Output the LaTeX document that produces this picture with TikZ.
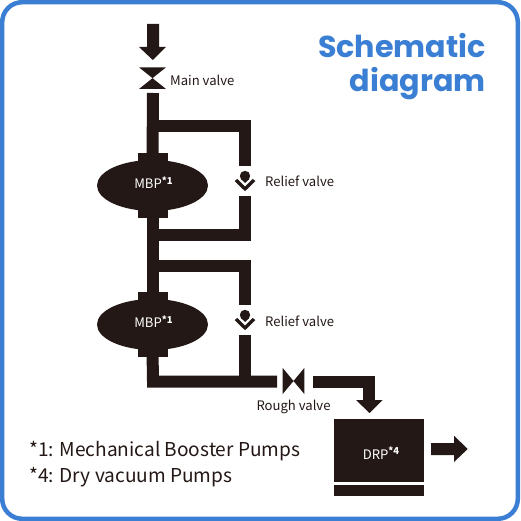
\documentclass[tikz,border=0pt]{standalone}
\usetikzlibrary{shapes.geometric,calc}
\usepackage{fontspec}
\setmainfont{Noto Sans CJK JP}
\newfontfamily\titlefont{Poppins}
\newcommand{\supmark}[1]{\raisebox{4.2pt}{\fontsize{9.5}{10}\selectfont\bfseries #1}}
\definecolor{ink}{HTML}{231815}
\definecolor{frame}{HTML}{3A7FD3}
\tikzset{
  pipe/.style={draw=ink,line width=12pt,line cap=butt,line join=miter},
  solid ink/.style={fill=ink,draw=none},
  label text/.style={text=ink,font=\fontsize{13.1}{15}\selectfont,inner sep=0pt},
  pump text/.style={text=white,font=\fontsize{13.1}{15}\selectfont,inner sep=0pt},
  legend text/.style={text=ink,font=\fontsize{19.1}{26}\selectfont,inner sep=0pt,anchor=west},
  title text/.style={text=frame,font=\titlefont\fontsize{30.2}{36}\bfseries\selectfont,inner sep=0pt,anchor=base east},
}
\begin{document}
\begin{tikzpicture}[x=1pt,y=-1pt]
\useasboundingbox (0,0) rectangle (520,521);
\fill[white] (0,0) rectangle (520,521);
\draw[frame,line width=4.5pt,rounded corners=20pt] (2.2,2.2) rectangle (517.8,518.8);
% pumps
\fill[solid ink] (138,153) rectangle (168,218);
\fill[solid ink] (138,292) rectangle (168,357);
\node[ellipse,fill=ink,minimum width=111pt,minimum height=51pt,inner sep=0pt] (mbpa) at (152.5,185.5) {};
\node[ellipse,fill=ink,minimum width=111pt,minimum height=51pt,inner sep=0pt] (mbpb) at (152.5,324.5) {};
\node[pump text,anchor=base] at (153.5,188.5) {MBP\supmark{*1}};
\node[pump text,anchor=base] at (153.5,327.5) {MBP\supmark{*1}};
\node[fill=ink,minimum width=90pt,minimum height=63pt,inner sep=0pt] (drp) at (379,450.5) {};
\node[pump text,anchor=base] at (381,459) {DRP\supmark{*4}};
\fill[solid ink] (334,484.7) rectangle (424,496);
% coordinates
\coordinate (ra) at (245,176);
\coordinate (rb) at (245,315);
% pipes
\draw[pipe] (153,93) -- (mbpa.north);
\draw[pipe] (153,126.5) -- (245,126.5) -- (245,166);
\draw[pipe] (245,196) -- (245,235) -- (153,235);
\draw[pipe] (mbpa.south) -- (mbpb.north);
\draw[pipe] (153,265.5) -- (245,265.5) -- (245,305);
\draw[pipe] (245,335) -- (245,381);
\draw[pipe] (mbpb.south) -- (153,381.5) -- (277,381.5);
\draw[pipe] (313,381.5) -- (369,381.5) -- (369,401);
% arrows
\fill[solid ink] (147,24) -- (159,24) -- (159,47) -- (166,47) -- (152.8,60) -- (139,47) -- (147,47) -- cycle;
\fill[solid ink] (369.5,413) -- (356,400) -- (382.7,400) -- cycle;
\fill[solid ink] (431,443) -- (454,443) -- (454,435.7) -- (467.7,449) -- (454,462) -- (454,455) -- (431,455) -- cycle;
% main valve
\fill[solid ink] (139,67.3) -- (166,67.3) -- (139,89) -- (166,89) -- cycle;
% rough valve
\fill[solid ink] (282.7,368) -- (304.3,394) -- (304.3,368) -- (282.7,394) -- cycle;
% relief valves
\foreach \r in {ra,rb}{
  \fill[solid ink] (\r) circle (5.2pt);
  \fill[solid ink] ($(\r)+(-4,3)$) -- ($(\r)+(0,7)$) -- ($(\r)+(4,3)$) -- cycle;
  \fill[solid ink] ($(\r)+(-10.3,5.2)$) -- ($(\r)+(-7.8,2.9)$) -- ($(\r)+(0,10.6)$) -- ($(\r)+(7.8,2.9)$) -- ($(\r)+(10.3,5.2)$) -- ($(\r)+(0,15.2)$) -- cycle;
}
% labels
\node[label text,anchor=west] at (170,80) {Main valve};
\node[label text,anchor=west] at (265,181) {Relief valve};
\node[label text,anchor=west] at (265,321) {Relief valve};
\node[label text] at (293.5,407) {Rough valve};
\node[legend text] at (29,451) {*1: Mechanical Booster Pumps};
\node[legend text] at (29,477) {*4: Dry vacuum Pumps};
\node[title text] at (486,58) {Schematic};
\node[title text] at (486,92) {diagram};
\end{tikzpicture}
\end{document}
